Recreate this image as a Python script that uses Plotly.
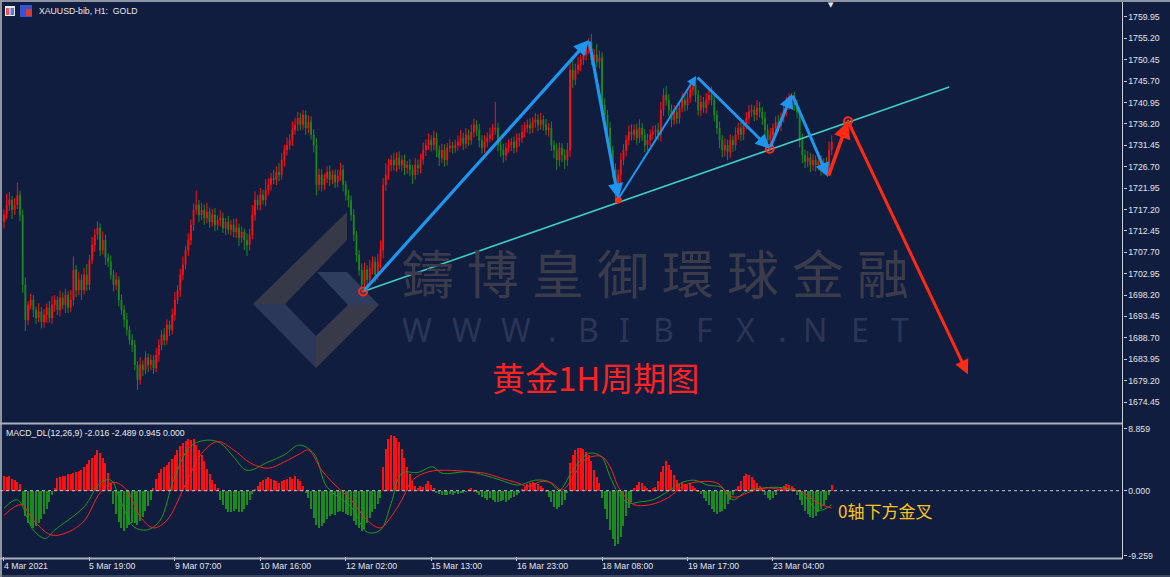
import plotly.graph_objects as go

W, H = 1170, 577
BG = "#111d3e"
UP = "#ff1010"
DN = "#1c8a1c"
AXC = "#c8ccd6"
FONT = "Liberation Sans"

# ---------------- data ----------------
open_first = 1714.5
closes = [
    1716.0, 1718.2, 1719.3, 1717.1, 1718.2, 1720.4, 1716.0, 1700.5, 1692.7, 1696.0,
    1697.1, 1694.9, 1693.1, 1694.5, 1692.2, 1693.8, 1695.4, 1693.1, 1696.0, 1697.1,
    1694.9, 1697.6, 1696.0, 1698.2, 1695.4, 1697.1, 1703.8, 1699.3, 1701.6, 1699.3,
    1702.7, 1700.5, 1706.0, 1709.3, 1711.6, 1713.1, 1708.2, 1710.4, 1706.5, 1705.6,
    1702.7, 1700.5, 1701.6, 1697.1, 1694.9, 1692.7, 1690.5, 1688.2, 1687.1, 1682.7,
    1679.4, 1682.7, 1681.6, 1684.3, 1682.7, 1683.8, 1682.0, 1684.9, 1687.1, 1689.4,
    1688.2, 1691.6, 1690.5, 1693.8, 1697.1, 1699.3, 1702.7, 1704.9, 1708.2, 1710.4,
    1713.8, 1717.1, 1718.2, 1716.0, 1717.1, 1715.3, 1716.7, 1714.4, 1716.0, 1713.8,
    1714.9, 1715.3, 1713.1, 1714.4, 1712.7, 1713.8, 1712.2, 1713.1, 1710.9, 1712.2,
    1710.4, 1709.3, 1711.6, 1716.0, 1719.3, 1718.2, 1720.4, 1719.3, 1721.5, 1722.7,
    1724.2, 1723.8, 1725.5, 1724.9, 1728.2, 1730.4, 1731.5, 1732.6, 1734.9, 1736.0,
    1737.5, 1736.0, 1738.2, 1735.3, 1736.6, 1733.8, 1731.5, 1722.7, 1724.9, 1722.7,
    1724.2, 1725.5, 1723.8, 1724.9, 1723.3, 1724.7, 1726.0, 1722.7, 1720.4, 1719.3,
    1716.0, 1711.6, 1707.1, 1703.8, 1700.5, 1703.8, 1701.6, 1704.2, 1705.6, 1702.7,
    1705.6, 1708.2, 1722.7, 1724.9, 1727.1, 1728.2, 1727.1, 1728.7, 1727.1, 1728.2,
    1726.4, 1727.1, 1726.0, 1724.9, 1727.1, 1726.4, 1728.2, 1730.4, 1731.5, 1732.6,
    1731.5, 1733.1, 1730.4, 1728.7, 1730.4, 1728.2, 1730.9, 1731.3, 1730.9, 1731.5,
    1732.2, 1733.1, 1731.8, 1733.8, 1732.6, 1734.4, 1736.0, 1734.9, 1732.6, 1730.9,
    1732.2, 1733.1, 1733.8, 1734.9, 1735.3, 1731.5, 1730.4, 1729.3, 1730.9, 1731.5,
    1732.2, 1730.9, 1732.6, 1733.1, 1734.4, 1735.3, 1736.0, 1735.3, 1736.6, 1737.1,
    1736.0, 1737.1, 1736.0, 1734.9, 1735.3, 1731.5, 1730.4, 1728.2, 1730.9, 1729.3,
    1728.2, 1730.4, 1748.2, 1746.0, 1748.2, 1749.3, 1750.4, 1751.5, 1753.1, 1754.4,
    1750.4, 1751.5, 1750.0, 1750.9, 1740.4, 1738.2, 1735.3, 1730.4, 1726.0, 1722.7,
    1724.9, 1728.2, 1730.4, 1732.6, 1734.4, 1733.8, 1734.9, 1733.1, 1735.3, 1733.8,
    1731.5, 1732.6, 1733.8, 1734.4, 1734.9, 1733.8, 1739.3, 1742.6, 1741.5, 1739.3,
    1737.1, 1738.9, 1737.5, 1739.8, 1741.5, 1740.4, 1742.0, 1743.8, 1744.9, 1742.6,
    1739.3, 1741.1, 1739.8, 1741.5, 1742.6, 1741.5, 1738.2, 1735.3, 1732.6, 1730.4,
    1731.5, 1730.0, 1732.6, 1731.5, 1733.8, 1735.3, 1733.8, 1736.0, 1737.5, 1738.9,
    1739.3, 1738.2, 1739.8, 1738.9, 1737.5, 1734.9, 1732.6, 1733.8, 1735.3, 1736.6,
    1735.8, 1737.5, 1739.3, 1740.4, 1741.5, 1742.0, 1740.4, 1738.9, 1732.6, 1729.3,
    1727.8, 1728.7, 1727.1, 1728.2, 1727.1, 1727.8, 1726.4, 1727.5, 1726.9, 1730.4,
    1732.2,
]
wick_hi = [
    1.2, 2.5, 1.8, 0.9, 1.5, 2.8, 1.0, 1.2, 1.6, 0.8, 1.4, 1.1, 0.7, 1.9, 1.0, 1.3, 0.9, 1.5, 2.0, 1.1,
    0.8, 1.6, 1.2, 1.4, 0.9, 2.2, 3.0, 1.0, 1.7, 1.2, 1.5, 2.4, 1.1, 1.8, 1.3, 1.5, 1.0, 1.9, 1.2, 0.9,
    1.4, 1.1, 1.6, 0.8, 1.2, 1.0, 1.5, 0.9, 1.3, 1.1, 0.8, 1.7, 1.0, 1.4, 0.9, 1.2, 1.0, 1.6, 1.3, 1.1,
    1.5, 1.2, 0.9, 1.4, 1.8, 1.1, 1.3, 1.9, 1.0, 1.5, 1.2, 1.4, 3.2, 1.1, 1.6, 1.2, 2.0, 0.9, 1.3, 1.5,
    1.0, 1.7, 1.2, 0.9, 1.4, 1.1, 1.3, 2.1, 1.0, 1.2, 0.8, 1.5, 1.3, 2.2, 1.9, 1.1, 1.6, 1.2, 2.4, 1.4,
    1.1, 1.8, 1.3, 2.0, 1.5, 1.2, 1.7, 1.3, 1.9, 1.6, 1.4, 1.2, 1.1, 1.0, 1.5, 1.3, 1.2, 1.6, 1.4, 1.2,
    1.0, 1.3, 1.5, 1.1, 1.2, 1.4, 1.6, 1.1, 0.9, 1.2, 1.0, 1.3, 0.8, 1.1, 1.4, 1.6, 1.0, 1.8, 1.2, 1.1,
    1.7, 2.1, 1.5, 2.6, 1.3, 1.1, 1.6, 1.2, 1.4, 1.0, 1.2, 0.9, 1.3, 1.1, 1.5, 1.2, 1.4, 1.7, 1.3, 1.5,
    1.1, 1.6, 1.2, 1.0, 1.4, 1.3, 1.1, 1.5, 0.9, 1.2, 1.4, 1.8, 1.1, 1.5, 1.2, 1.7, 1.4, 1.0, 1.3, 1.1,
    1.5, 1.2, 1.6, 1.3, 5.8, 1.2, 1.0, 1.4, 1.1, 1.3, 0.9, 1.2, 1.5, 1.1, 1.6, 1.3, 1.2, 1.4, 1.1, 1.5,
    1.2, 1.6, 1.0, 1.3, 1.1, 1.4, 1.0, 1.5, 1.2, 1.1, 1.3, 1.6, 1.5, 2.0, 1.4, 1.8, 1.2, 1.6, 1.3, 0.9,
    1.8, 1.4, 2.5, 1.6, 1.2, 1.5, 1.1, 1.3, 1.0, 1.4, 1.2, 1.6, 1.3, 1.1, 1.5, 1.7, 1.2, 1.4, 1.9, 1.1,
    1.3, 1.5, 1.2, 1.4, 1.0, 1.6, 1.8, 1.5, 2.1, 1.3, 1.2, 1.5, 1.1, 1.4, 1.6, 1.2, 1.3, 1.5, 1.0, 1.8,
    1.2, 1.4, 1.1, 1.6, 1.3, 1.9, 1.2, 1.0, 1.4, 1.1, 1.5, 1.2, 1.3, 1.0, 1.6, 1.2, 1.4, 1.1, 1.3, 1.5,
    1.2, 1.0, 1.7, 1.3, 1.1, 1.4, 1.2, 1.5, 1.0, 1.3, 1.6, 1.2, 1.4, 1.8, 1.5, 1.1, 1.3, 1.2, 1.0, 1.4,
    1.2, 1.5, 1.1, 1.3, 1.0, 1.2, 1.4, 1.1, 1.3, 1.9, 1.5,
]
wick_lo = [
    1.5, 1.0, 1.3, 2.0, 1.1, 0.9, 1.4, 1.8, 2.5, 1.2, 1.0, 1.6, 1.3, 0.9, 1.4, 1.2, 1.7, 1.0, 1.3, 1.5,
    1.1, 1.4, 0.9, 1.8, 1.2, 1.0, 1.3, 1.6, 1.1, 2.2, 1.0, 1.4, 1.2, 0.9, 1.5, 1.1, 1.3, 1.0, 1.6, 1.2,
    1.0, 1.5, 1.2, 1.4, 1.1, 1.7, 1.3, 1.0, 1.5, 1.2, 2.3, 1.1, 1.4, 1.0, 1.6, 1.2, 1.3, 0.9, 1.5, 1.1,
    1.2, 1.0, 1.4, 1.1, 1.3, 0.9, 1.5, 1.2, 1.0, 1.3, 1.1, 1.4, 1.0, 1.6, 1.2, 1.5, 1.1, 1.3, 1.0, 1.4,
    1.2, 1.5, 1.1, 1.6, 1.0, 1.3, 1.2, 1.4, 1.8, 1.1, 2.2, 2.4, 1.2, 1.0, 1.3, 1.1, 1.2, 1.0, 1.4, 1.1,
    1.3, 1.0, 1.2, 1.4, 1.1, 1.5, 1.2, 1.0, 1.3, 1.1, 1.4, 1.2, 1.0, 1.5, 1.2, 1.1, 1.6, 2.4, 1.3, 1.5,
    1.2, 1.1, 1.4, 1.0, 1.3, 1.2, 1.1, 1.5, 1.2, 1.6, 1.3, 1.4, 1.6, 1.3, 1.6, 1.2, 2.0, 1.1, 1.4, 1.7,
    1.2, 1.5, 1.8, 1.3, 1.1, 1.4, 1.2, 1.5, 1.0, 1.3, 1.6, 1.2, 1.4, 2.0, 1.1, 1.5, 1.2, 1.0, 1.3, 1.1,
    1.4, 1.2, 1.6, 1.8, 1.1, 1.5, 1.2, 1.0, 1.3, 1.1, 1.2, 1.0, 1.4, 1.1, 1.3, 1.0, 1.2, 1.4, 1.6, 1.3,
    1.1, 1.2, 1.0, 1.3, 1.1, 1.4, 1.5, 1.7, 1.2, 1.1, 1.3, 1.2, 1.0, 1.4, 1.1, 1.2, 1.0, 1.3, 1.1, 1.2,
    1.4, 1.1, 1.3, 1.2, 1.5, 1.3, 1.8, 2.2, 1.4, 1.6, 2.0, 1.3, 1.5, 1.8, 1.2, 1.0, 1.4, 1.1, 1.2, 1.3,
    1.1, 1.4, 1.2, 1.5, 1.3, 1.6, 1.4, 1.2, 1.7, 3.0, 1.5, 1.8, 1.2, 1.4, 1.1, 1.3, 1.2, 1.5, 1.1, 1.4,
    1.6, 1.2, 1.3, 1.1, 1.4, 1.2, 1.5, 1.3, 1.2, 1.4, 1.6, 1.1, 1.3, 1.2, 1.0, 1.4, 1.2, 1.1, 1.3, 1.5,
    1.2, 1.4, 1.1, 1.3, 1.0, 1.2, 1.5, 1.3, 1.8, 1.6, 1.4, 1.9, 1.3, 1.5, 1.2, 1.1, 1.4, 1.2, 1.0, 1.3,
    1.1, 1.4, 1.2, 1.3, 1.5, 1.6, 1.7, 1.2, 1.4, 1.1, 1.3, 1.2, 1.0, 1.4, 1.1, 1.2, 1.3, 1.5, 1.6, 1.8,
    1.4, 1.2, 1.6, 1.3, 1.5, 1.2, 1.7, 1.4, 1.3, 1.2, 1.1,
]

macd_hist = [
    2.2, 2.0, 2.1, 1.8, 1.6, 1.3, 1.0,
    -2.0, -3.5, -4.5, -5.0, -5.2, -5.0, -4.6, -4.0, -3.2, -2.5, -1.5, -0.5, 0.4,
    1.9, 2.0, 2.1, 2.2, 2.4, 2.5, 2.6, 2.8, 2.9, 3.0, 3.4, 3.9, 4.4, 4.8, 5.2, 5.9, 5.5, 4.7, 4.0, 2.6, 1.2,
    -1.8, -3.3, -4.4, -5.2, -5.6, -5.3, -4.8, -4.5, -4.6, -4.8, -4.3, -3.7, -2.8, -2.1, -1.2,
    0.4, 1.7, 2.6, 3.1, 3.4, 3.7, 4.1, 4.6, 5.2, 5.8, 6.4, 6.9, 7.2, 7.4, 7.3, 7.5, 6.6, 5.8, 5.2, 4.3, 3.2, 2.4, 1.6, 1.0, 0.4,
    -1.2, -2.0, -2.6, -2.9, -3.0, -2.8, -2.6, -2.9, -3.0, -2.5, -2.0, -1.2, -0.4,
    0.3, 0.8, 1.3, 1.6, 1.8, 2.0, 1.8, 1.6, 1.4, 1.2, 1.5, 1.6, 1.8, 2.0, 1.8, 2.2, 1.8, 1.4, 0.8,
    -0.3, -1.0, -2.5, -3.8, -4.8, -5.2, -5.0, -4.5, -4.0, -3.6, -3.2, -3.4, -3.0, -2.8,
    -3.0, -3.2, -3.4, -3.6, -4.2, -4.8, -5.3, -5.6, -5.4, -4.6, -3.8, -3.0, -2.5, -1.8, -1.0,
    3.5, 6.0, 7.5, 8.0, 7.8, 7.6, 7.0, 6.0, 4.8, 3.5, 2.5, 1.5, 0.8,
    0.5, 0.8, 0.6, 1.0, 1.4, 0.9, 0.4,
    -0.2, -0.4, -0.5, -0.6, -0.5, -0.4, -0.5, -0.3, -0.4, -0.2, -0.3, -0.1,
    0.3, 0.4, 0.2,
    -0.3, -0.5, -0.8, -1.0, -1.2, -1.0, -1.3, -1.5, -1.6, -1.4, -1.2, -1.5, -1.3, -1.0, -0.8, -0.5, -0.2,
    0.3, 0.6, 1.0, 1.2, 1.3, 1.2, 1.0, 0.8, 0.5, 0.2,
    -0.8, -1.6, -2.2, -2.5, -2.3, -2.0, -1.2, -0.3,
    4.0, 5.2, 5.8, 6.1, 6.2, 6.0, 5.6, 5.2, 4.3, 3.0, 2.0, 1.2,
    -1.0, -2.5, -4.0, -5.5, -6.8, -7.8, -7.5, -6.5, -5.0, -3.6, -2.4, -1.5,
    0.4, 0.9, 1.3, 1.1, 0.8, 0.4,
    0.2, 0.4, 0.6, 1.5, 2.8, 3.6, 4.3, 3.8, 3.0, 2.3, 1.6, 1.0,
    1.2, 1.0, 0.9, 1.1, 0.8, 0.5, 0.2,
    -0.4, -0.9, -1.4, -2.0, -2.6, -3.0, -3.3, -3.0, -2.8, -2.5, -1.8, -1.2, -0.6,
    0.3, 0.8, 1.5, 2.2, 2.4, 2.3, 2.0, 1.6, 1.2, 0.8, 0.4,
    -0.5, -1.0, -1.3, -1.0, -0.6,
    0.3, 0.6, 0.8, 1.0, 0.9, 0.7, 0.4,
    -0.5, -1.2, -2.0, -2.8, -3.3, -3.7, -3.8, -3.5, -3.0, -2.5, -2.0, -1.3, -0.5,
    0.945,
]

dea_bar = [0, 6.4, 11, 17.6, 24, 30, 36, 41, 46, 51, 56, 61, 67.5, 74, 80, 86, 92.5, 99, 105,
           111, 114, 119, 124, 130, 136, 141, 145, 149, 153, 159, 167.5, 174, 180, 186, 192.5,
           196, 201, 205, 209, 212.5, 217.5, 223.6, 227, 230, 233, 236, 242, 248.7, 255, 261,
           267, 273, 280, 286, 292, 298.5, 305, 310]
dea_val = [-3.5, -2.0, -4.2, -6.3, -5.9, -4.3, -0.3, 1.2, 0.1, -3.7, -5.3, -4.2, 0.5, 5.3, 7.0,
           5.8, 3.9, 3.2, 4.1, 5.3, 5.8, 2.9, 0.8, -1.3, -4.2, -5.3, -3.7, -1.3, 1.5, 2.7, 2.9,
           2.7, 2.5, 1.8, 1.1, 0.6, 1.3, 1.1, 0.1, 1.5, 4.4, 4.9, 3.4, 0.6, -1.0, -2.0, -2.0,
           -1.0, 0.8, 1.3, 1.1, -0.9, -0.1, 0.4, 0.1, -0.1, -1.8, -2.489]
dif_bar = [0, 5, 11, 15.5, 19, 30, 36, 40, 43.5, 48.5, 53.5, 58.5, 63.5, 69.8, 76, 81, 86, 91,
           99, 105, 110.6, 116, 121, 130, 136, 141, 145, 149, 155, 160.5, 164, 174, 180, 186,
           192.5, 199, 204, 208, 213, 219, 223.6, 227, 231, 234.5, 238, 243, 248.7, 253.5,
           258.5, 263.5, 268.5, 273, 278, 284.5, 292, 298.5, 305, 310]
dif_val = [-2.5, -1.3, -5.6, -6.8, -5.6, -2.3, 1.1, 1.5, -1.3, -5.1, -5.6, -4.2, 1.5, 6.3, 7.2,
           6.8, 4.8, 2.9, 4.1, 5.1, 6.5, 5.3, 0.5, -2.3, -5.9, -5.6, -1.8, 2.5, 2.6, 3.4, 2.5,
           2.7, 2.2, 1.5, 0.8, 1.5, 1.3, 0.1, 2.9, 5.3, 4.9, 2.0, -0.9, -1.8, -1.6, -1.3, -0.1,
           1.1, 1.5, 0.8, 0.5, -1.3, -0.1, 0.4, 0.4, -0.3, -2.8, -2.016]

price_tick_labels = ["1759.95", "1755.20", "1750.45", "1745.70", "1740.95", "1736.20",
                     "1731.45", "1726.70", "1721.95", "1717.20", "1712.45", "1707.70",
                     "1702.95", "1698.20", "1693.45", "1688.70", "1683.95", "1679.20", "1674.45"]
macd_tick_labels = ["8.859", "0.000", "-9.259"]
time_bar = [0, 32, 64, 96, 128, 160, 192, 224, 256, 288]
time_labels = ["4 Mar 2021", "5 Mar 19:00", "9 Mar 07:00", "10 Mar 16:00", "12 Mar 02:00",
               "15 Mar 13:00", "16 Mar 23:00", "18 Mar 08:00", "19 Mar 17:00", "23 Mar 04:00"]

# analyst drawing: pivot points (bar index, price)
piv_bar = [134.5, 219.1, 230.1, 259.2, 286.8, 295.1, 308.6, 316.1, 361.0]
piv_price = [1699.0, 1754.85, 1719.6, 1746.85, 1730.7, 1742.85, 1724.4, 1736.8, 1680.6]
trend_bar = [134.5, 354.0]
trend_price = [1699.0, 1744.4]

# ---------------- derived candles ----------------
n = min(len(closes), len(wick_hi), len(wick_lo))
closes = closes[:n]
opens = [open_first] + closes[:-1]
highs = [max(o, c) + w for o, c, w in zip(opens, closes, wick_hi)]
lows = [min(o, c) - w for o, c, w in zip(opens, closes, wick_lo)]
idx = list(range(n))

def px(x):
    return x / W

def py(y):
    return 1 - y / H

fig = go.Figure()
fig.add_trace(go.Candlestick(
    x=idx, open=opens, high=highs, low=lows, close=closes,
    increasing=dict(line=dict(color=UP, width=1), fillcolor=UP),
    decreasing=dict(line=dict(color=DN, width=1), fillcolor=DN),
    whiskerwidth=0, xaxis="x", yaxis="y", hoverinfo="skip",
))

# trend line
fig.add_trace(go.Scatter(x=trend_bar, y=trend_price, mode="lines",
                         line=dict(color="#3ccdc4", width=1.6), yaxis="y", hoverinfo="skip"))

# MACD histogram
hn = len(macd_hist)
fig.add_trace(go.Bar(
    x=list(range(hn)), y=macd_hist, width=0.42,
    marker=dict(color=[UP if v > 0 else DN for v in macd_hist], line=dict(width=0)),
    yaxis="y2", hoverinfo="skip",
))
fig.add_trace(go.Scatter(x=dif_bar, y=dif_val, mode="lines", yaxis="y2",
                         line=dict(color="#1e9a1e", width=1, shape="spline", smoothing=1.0),
                         hoverinfo="skip"))
fig.add_trace(go.Scatter(x=dea_bar, y=dea_val, mode="lines", yaxis="y2",
                         line=dict(color="#ff2020", width=1, shape="spline", smoothing=1.0),
                         hoverinfo="skip"))

# arrows
arrows = [
    (0, 1, "#1e96f0", 3.2),
    (1, 2, "#1e96f0", 3.2),
    (2, 3, "#1e96f0", 2.0),
    (3, 4, "#1e96f0", 3.0),
    (4, 5, "#1e96f0", 3.0),
    (5, 6, "#1e96f0", 3.0),
    (6, 7, "#ff2a14", 3.6),
    (7, 8, "#ff2a14", 3.0),
]
ann = []
for a, b, col, wdt in arrows:
    ann.append(dict(x=piv_bar[b], y=piv_price[b], ax=piv_bar[a], ay=piv_price[a],
                    xref="x", yref="y", axref="x", ayref="y", text="", showarrow=True,
                    arrowhead=2, arrowsize=0.95, arrowwidth=wdt, arrowcolor=col, standoff=0))

# pivot markers
fig.add_trace(go.Scatter(x=[piv_bar[0], piv_bar[4], piv_bar[7]],
                         y=[piv_price[0], piv_price[4], piv_price[7]], mode="markers",
                         marker=dict(symbol="circle-open-dot", size=8, color="#ff2a14",
                                     line=dict(width=2, color="#ff2a14")),
                         yaxis="y", hoverinfo="skip"))
fig.add_trace(go.Scatter(x=[piv_bar[2]], y=[piv_price[2] - 0.3], mode="markers",
                         marker=dict(symbol="circle", size=7, color="#ff2a14"),
                         yaxis="y", hoverinfo="skip"))

# ---------------- watermark ----------------
shapes = []
def poly(points, color):
    path = "M " + " L ".join(f"{px(x):.5f},{py(y):.5f}" for x, y in points) + " Z"
    shapes.append(dict(type="path", path=path, xref="paper", yref="paper",
                       fillcolor=color, line=dict(width=0), layer="below"))

poly([(253, 304), (347, 212), (347, 240), (285, 304)], "#363947")
poly([(253, 304), (285, 304), (316, 336), (316, 368)], "#2b385a")
poly([(316, 368), (316, 336), (348, 305), (379, 305)], "#383a49")
poly([(317, 272), (347, 272), (379, 305), (348, 305)], "#2e3c5e")

wm_chars = "鑄博皇御環球金融"
for k, ch in enumerate(wm_chars):
    ann.append(dict(x=px(428 + 65 * k), y=py(271), xref="paper", yref="paper", text=ch,
                    showarrow=False, xanchor="center", yanchor="middle",
                    font=dict(family="Noto Sans CJK TC", size=52, color="#3a3c4c")))
www_chars = list("WWW.BIBFX.NET")
www_x = [417, 467, 516, 552, 588, 624, 663, 704, 745, 782, 815, 860, 900]
for ch, xx in zip(www_chars, www_x):
    ann.append(dict(x=px(xx), y=py(330), xref="paper", yref="paper", text=ch,
                    showarrow=False, xanchor="center", yanchor="middle",
                    font=dict(family="Noto Sans", size=32, color="#2c3556")))

# ---------------- texts ----------------
ann.append(dict(x=px(595), y=py(377), xref="paper", yref="paper", text="黄金1H周期图",
                showarrow=False, xanchor="center", yanchor="middle",
                font=dict(family="Noto Sans CJK SC", size=33, color="#ff2222")))
ann.append(dict(x=px(885), y=py(510), xref="paper", yref="paper", text="0轴下方金叉",
                showarrow=False, xanchor="center", yanchor="middle",
                font=dict(family="Noto Sans CJK SC", size=17, color="#ffc41e")))
ann.append(dict(x=px(37), y=py(11), xref="paper", yref="paper",
                text="XAUUSD-bib, H1:\u00a0 GOLD", showarrow=False,
                xanchor="left", yanchor="middle",
                font=dict(family=FONT, size=8.7, color="#e6e8ee")))
ann.append(dict(x=px(4), y=py(433), xref="paper", yref="paper",
                text="MACD_DL(12,26,9) -2.016 -2.489 0.945 0.000", showarrow=False,
                xanchor="left", yanchor="middle",
                font=dict(family=FONT, size=8.7, color="#e6e8ee")))
ann.append(dict(x=px(831), y=py(5), xref="paper", yref="paper", text="▼", showarrow=False,
                xanchor="center", yanchor="middle",
                font=dict(family="DejaVu Sans", size=7, color="#e8e8e8")))
for tb, tl in zip(time_bar, time_labels):
    ann.append(dict(x=tb, y=py(566), xref="x", yref="paper", text=tl, showarrow=False,
                    xanchor="left", yanchor="middle", xshift=-2,
                    font=dict(family=FONT, size=8.7, color="#e0e3ea")))

# icons top-left
shapes.append(dict(type="rect", xref="paper", yref="paper", x0=px(5), x1=px(15), y0=py(16), y1=py(6),
                   fillcolor="#e8e8f0", line=dict(width=0)))
shapes.append(dict(type="rect", xref="paper", yref="paper", x0=px(6), x1=px(9.5), y0=py(15), y1=py(8),
                   fillcolor="#e05a5a", line=dict(width=0)))
shapes.append(dict(type="rect", xref="paper", yref="paper", x0=px(10.5), x1=px(14), y0=py(15), y1=py(8),
                   fillcolor="#5a78e0", line=dict(width=0)))
shapes.append(dict(type="rect", xref="paper", yref="paper", x0=px(20), x1=px(32), y0=py(17), y1=py(5),
                   fillcolor="#3553d6", line=dict(width=0)))
shapes.append(dict(type="rect", xref="paper", yref="paper", x0=px(26), x1=px(32), y0=py(16), y1=py(9),
                   fillcolor="#d83a3a", line=dict(width=0)))

# frame lines
XR = 1122.5
line_c = "#a9afbd"
shapes += [
    dict(type="line", xref="paper", yref="paper", x0=0, x1=1, y0=py(1), y1=py(1),
         line=dict(color="#8d93a0", width=2)),
    dict(type="line", xref="paper", yref="paper", x0=px(1), x1=px(1), y0=py(0), y1=py(577),
         line=dict(color="#8d93a0", width=2)),
    dict(type="line", xref="paper", yref="paper", x0=0, x1=1, y0=py(576), y1=py(576),
         line=dict(color="#6c7283", width=1)),
    dict(type="line", xref="paper", yref="paper", x0=0, x1=px(XR), y0=py(423.5), y1=py(423.5),
         line=dict(color=line_c, width=2)),
    dict(type="line", xref="paper", yref="paper", x0=0, x1=px(XR), y0=py(558.5), y1=py(558.5),
         line=dict(color=line_c, width=2)),
    dict(type="line", xref="paper", yref="paper", x0=px(XR), x1=px(XR), y0=py(2), y1=py(559),
         line=dict(color=AXC, width=1)),
    dict(type="line", xref="paper", yref="y2", x0=0, x1=px(XR), y0=0, y1=0,
         line=dict(color="#c4c8d2", width=1, dash="dot")),
]

fig.update_layout(
    width=W, height=H, margin=dict(l=0, r=0, t=0, b=0, pad=0, autoexpand=False),
    paper_bgcolor=BG, plot_bgcolor=BG, showlegend=False,
    boxgap=0.55, bargap=0, barmode="overlay",
    shapes=shapes, annotations=ann,
    xaxis=dict(domain=[px(3), px(XR)], range=[-0.37, 418.9], anchor="y2", automargin=False,
               showgrid=False, zeroline=False, showline=False,
               tickvals=time_bar, ticktext=[""] * len(time_bar),
               ticks="outside", ticklen=4, tickcolor=AXC,
               rangeslider=dict(visible=False), fixedrange=True),
    yaxis=dict(domain=[py(421), py(2)], range=[1670.23, 1763.28], side="right", anchor="x",
               automargin=False, showgrid=False, zeroline=False, showline=False,
               tickvals=[float(t) for t in price_tick_labels], ticktext=price_tick_labels,
               ticks="outside", ticklen=3, tickcolor=AXC,
               tickfont=dict(family=FONT, size=8.7, color="#e0e3ea"), fixedrange=True),
    yaxis2=dict(domain=[py(555.7), py(428.5)], range=[-9.259, 8.859], side="right", anchor="x",
                automargin=False, showgrid=False, zeroline=False, showline=False,
                tickvals=[float(t) for t in macd_tick_labels], ticktext=macd_tick_labels,
                ticks="outside", ticklen=3, tickcolor=AXC,
                tickfont=dict(family=FONT, size=8.7, color="#e0e3ea"), fixedrange=True),
)

fig.write_html("out.html")
